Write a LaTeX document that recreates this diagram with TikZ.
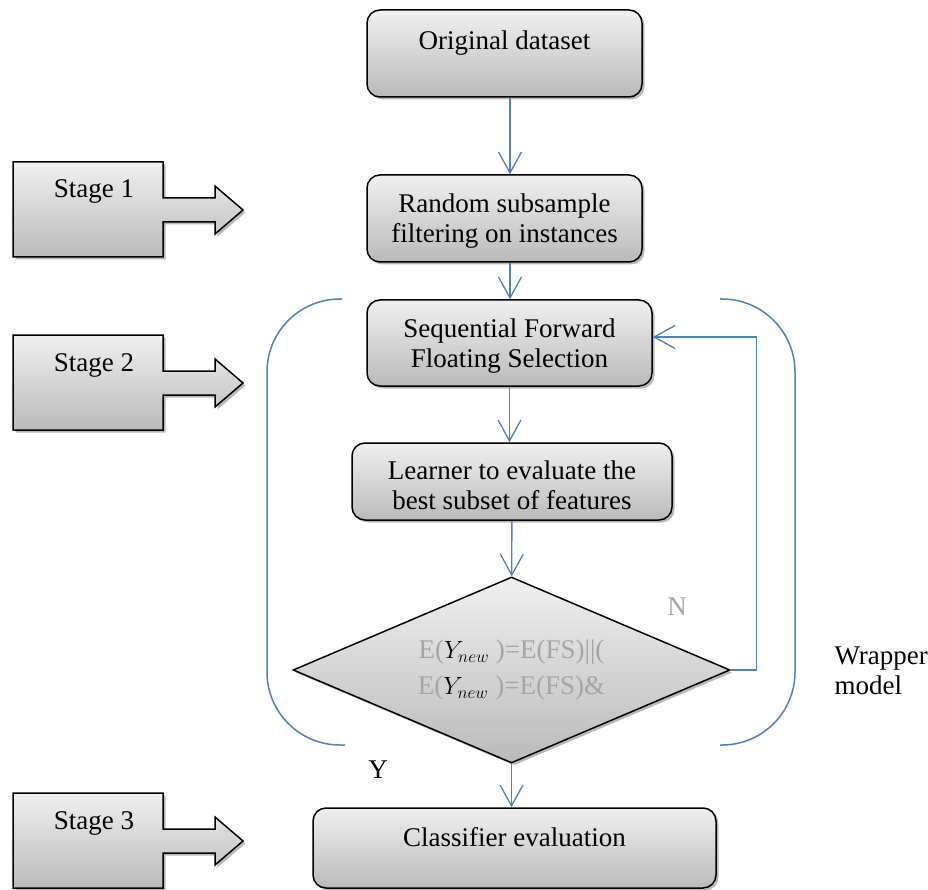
\documentclass[tikz,border=0pt]{standalone}
\usepackage{fontspec}
\setmainfont{Liberation Serif}
\usetikzlibrary{shapes.geometric,shadows,arrows.meta}
\definecolor{linkblue}{RGB}{79,129,189}
\definecolor{softgray}{RGB}{165,165,165}
\begin{document}
\begin{tikzpicture}[x=1pt,y=-1pt,
  every node/.style={font=\fontsize{27}{30}\selectfont},
  shaded/.style={top color=black!6, bottom color=black!27,
    drop shadow={shadow xshift=2.5pt, shadow yshift=-2.5pt, fill=black!55}},
  box/.style={shaded, draw, line width=1.5pt, rounded corners=13pt,
    align=center, inner ysep=0pt},
  stagearrow/.style={shaded, draw, line width=1.5pt},
  flow/.style={linkblue, line width=1.3pt,
    -{Straight Barb[length=21pt,width=23pt,line width=1.3pt]}},
  bracket/.style={linkblue, line width=1.5pt, rounded corners=73pt}]

\useasboundingbox (0,0) rectangle (928,890);

% flow boxes
\node[box, minimum width=275pt, text height=40pt, text depth=47pt]
  (orig) at (504.5,53.5) {Original dataset};
\node[box, minimum width=275pt, text height=68pt, text depth=19pt]
  (rand) at (504.5,218.5) {Random subsample\\filtering on instances};
\node[box, minimum width=285pt, text height=67pt, text depth=19pt]
  (sffs) at (509.5,343) {Sequential Forward\\Floating Selection};
\node[box, minimum width=320pt, text height=66pt, text depth=11pt]
  (learn) at (512,481.5) {Learner to evaluate the\\best subset of features};
\node[shaded, draw, line width=1.5pt, diamond, shape aspect=2.4,
  minimum width=437pt, minimum height=186pt, inner sep=0pt,
  align=center, text=softgray, font=\fontsize{27}{36}\selectfont]
  (diam) at (511.5,670)
  {E(\textcolor{black}{$Y_{new}$} )=E(FS)||(\\E(\textcolor{black}{$Y_{new}$} )=E(FS)\&};
\node[box, minimum width=403pt, text height=38pt, text depth=42pt]
  (clf) at (514.5,848) {Classifier evaluation};

% connectors
\draw[flow] ([xshift=5.5pt]orig.south) -- ([xshift=5.5pt]orig.south |- rand.north);
\draw[flow] ([xshift=5.5pt]rand.south) -- ([xshift=5.5pt]rand.south |- sffs.north);
\draw[flow] (sffs.south) -- (sffs.south |- learn.north);
\draw[flow] (learn) -- (diam);
\draw[flow] (diam.south) -- (diam.south |- clf.north);
\draw[flow] (diam.east) -- ++(26,0) |- ([yshift=6pt]sffs.east);

\node[text=softgray] (no) at (677,607) {N};
\node (yes) at (378,770) {Y};

% wrapper brackets
\draw[bracket] (342,299) -- (267,299) -- (267,745) -- (345,745);
\draw[bracket] (720,299) -- (795,299) -- (795,745) -- (720,745);
\node[anchor=base west, align=left] (wrap) at (831,694) {Wrapper\\model};

% stage arrows
\foreach \s/\t in {1/162,2/335,3/793} {
  \draw[stagearrow] (13,\t) -- (163,\t) -- (163,\t+36) -- (215,\t+36)
    -- (215,\t+24) -- (243,\t+48) -- (215,\t+72) -- (215,\t+60)
    -- (163,\t+60) -- (163,\t+95) -- (13,\t+95) -- cycle;
  \node[anchor=base] (stage\s) at (94,\t+36) {Stage \s};
}
\end{tikzpicture}
\end{document}
